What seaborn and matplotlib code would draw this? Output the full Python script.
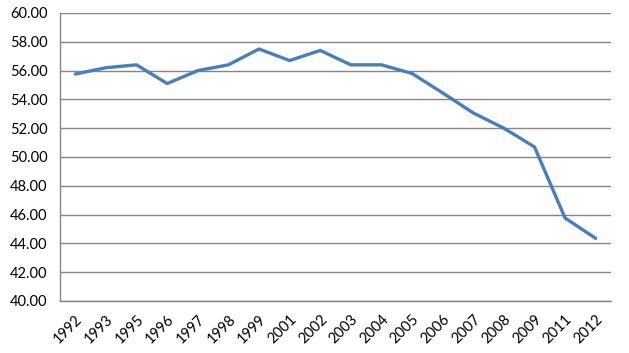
import matplotlib
matplotlib.use("Agg")
import matplotlib.pyplot as plt
import seaborn as sns
import pandas as pd
from matplotlib.ticker import FixedLocator, FormatStrFormatter

years = ["1992", "1993", "1995", "1996", "1997", "1998", "1999", "2001", "2002",
         "2003", "2004", "2005", "2006", "2007", "2008", "2009", "2011", "2012"]
values = [55.76, 56.2, 56.4, 55.1, 56.0, 56.4, 57.5, 56.7, 57.4,
          56.4, 56.4, 55.8, 54.45, 53.06, 52.0, 50.7, 45.76, 44.35]

df = pd.DataFrame({"year": years, "value": values})

sns.set_style("white")
plt.rcParams['font.family'] = ['Lato', 'DejaVu Sans']

fig = plt.figure(figsize=(6.29, 3.53), dpi=100)
ax = fig.add_axes([60/629, 52/353, 551/629, 288/353])

sns.lineplot(data=df, x="year", y="value", ax=ax, color="#4A7EBB", linewidth=2.4, sort=False)

ax.set_xlim(-0.5, len(years) - 0.5)
ax.set_ylim(40, 60)
ax.set_yticks([40 + 2 * i for i in range(11)])
ax.yaxis.set_major_formatter(FormatStrFormatter("%.2f"))
ax.set_xticks(range(len(years)))
ax.set_xticklabels(years, rotation=45, ha="right", rotation_mode="anchor")
ax.xaxis.set_minor_locator(FixedLocator([i - 0.5 for i in range(len(years) + 1)]))
ax.tick_params(axis="x", which="major", length=0, pad=8, labelsize=10.5, colors="#000000")
ax.tick_params(axis="x", which="minor", length=5, color="#868686", width=1, direction="out")
ax.tick_params(axis="y", which="major", length=5, color="#868686", width=1, labelsize=10.5, direction="out", pad=4)
ax.tick_params(axis="y", labelcolor="#000000")

ax.grid(axis="y", color="#868686", linewidth=1)
ax.set_axisbelow(True)
for s in ["top", "right"]:
    ax.spines[s].set_visible(False)
for s in ["left", "bottom"]:
    ax.spines[s].set_color("#868686")
    ax.spines[s].set_linewidth(1)
ax.set_xlabel("")
ax.set_ylabel("")

fig.savefig("out.png", dpi=100)
